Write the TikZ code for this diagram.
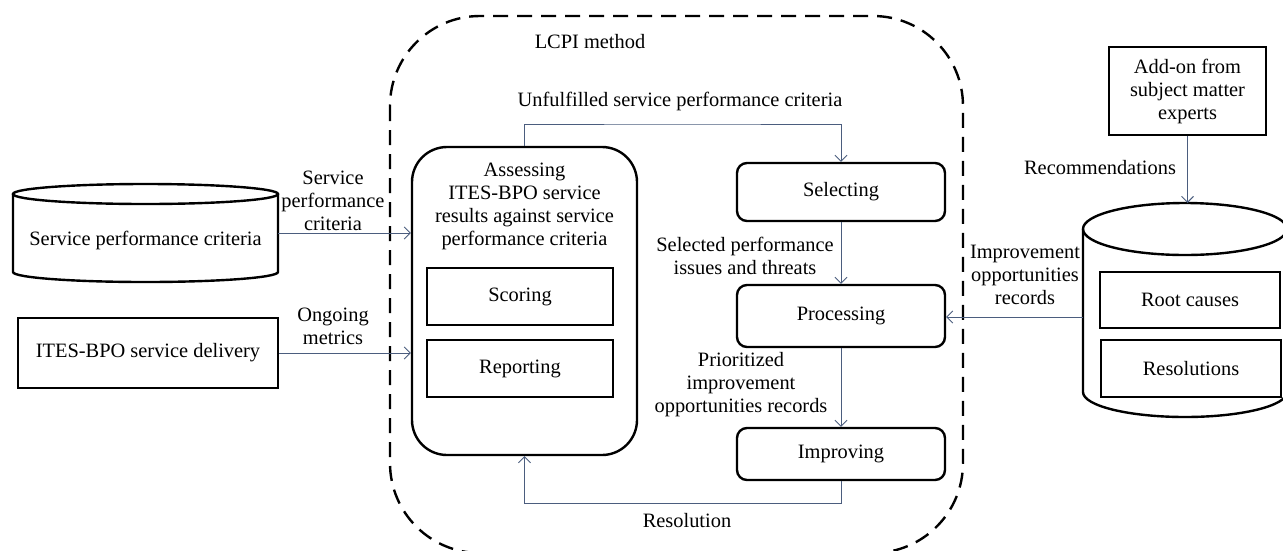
\documentclass[tikz,border=0pt]{standalone}
\usepackage{fontspec}
\setmainfont{Liberation Serif}
\usetikzlibrary{arrows.meta,calc}
\definecolor{linkc}{HTML}{4B5D7E}
\begin{document}
\begin{tikzpicture}[x=1pt,y=-1pt,
  font=\fontsize{20.4}{23}\selectfont,
  box/.style={draw, line width=2.4pt, align=center, inner sep=0pt},
  rbox/.style={box, rounded corners=10pt},
  conn/.style={draw=linkc, line width=0.9pt, -{Straight Barb[length=6pt,width=12pt]}},
  lbl/.style={align=center, inner sep=0pt}]
\useasboundingbox (0,0) rectangle (1283,550);

% LCPI dashed frame
\begin{scope}
\clip (0,0) rectangle (1283,550);
\draw[line width=2.4pt, dash pattern=on 15pt off 9pt, rounded corners=90pt] (390,16) rectangle (963,553);
\end{scope}
\node[lbl] (lcpi) at (590,42) {LCPI method};

% left cylinder
\node[lbl, minimum width=265pt, minimum height=98pt] (spc) at (145.5,233) {};
\draw[line width=2.4pt] (13,194) -- (13,272) arc[start angle=180, end angle=360, x radius=132.5pt, y radius=10pt] -- (278,194);
\draw[line width=2.4pt] (145.5,194) ellipse[x radius=132.5pt, y radius=10pt];
\node[lbl] at (145.5,240) {Service performance criteria};

% delivery box
\node[box, minimum width=260pt, minimum height=70pt] (deliv) at (148,353) {ITES-BPO service delivery};

% assessing
\node[box, rounded corners=35pt, minimum width=225pt, minimum height=308pt] (assess) at (524.5,301) {};
\node[lbl, anchor=north] (assesst) at (524.5,163) {Assessing\\ITES-BPO service\\results against service\\performance criteria};
\node[box, minimum width=186pt, minimum height=57pt] (scoring) at (520,296.5) {Scoring};
\node[box, minimum width=186pt, minimum height=57pt] (reporting) at (520,368.5) {Reporting};

% right column
\node[rbox, minimum width=208pt, minimum height=58pt] (select) at (841,192) {Selecting};
\node[rbox, minimum width=208pt, minimum height=62pt] (process) at (841,316) {Processing};
\node[rbox, minimum width=208pt, minimum height=52pt] (improve) at (841,454) {Improving};

% right cylinder
\node[lbl, minimum width=204pt, minimum height=214pt] (db) at (1185,310) {};
\draw[line width=2.4pt] (1083,229) -- (1083,392) arc[start angle=180, end angle=360, x radius=102pt, y radius=25pt] -- (1287,229);
\draw[line width=2.4pt] (1185,229) ellipse[x radius=102pt, y radius=26pt];
\node[box, minimum width=180pt, minimum height=56pt] (root) at (1190,300) {Root causes};
\node[box, minimum width=180pt, minimum height=57pt] (resol) at (1191,368.5) {Resolutions};

% add-on box
\node[box, minimum width=157pt, minimum height=88pt] (addon) at (1187.5,91) {Add-on from\\subject matter\\experts};

% connectors
\draw[conn] (spc.east) -- (assess.west |- spc.east);
\node[lbl] at (333,201) {Service\\performance\\criteria};
\draw[conn] (deliv.east) -- (assess.west |- deliv.east);
\node[lbl] at (333,326) {Ongoing\\metrics};

\draw[conn] (assess.north) |- (682,124) -| (select.north);
\node[lbl] at (680,101) {Unfulfilled service performance criteria};

\draw[conn] (select.south) -- (process.north);
\node[lbl] at (745,256) {Selected performance\\issues and threats};

\draw[conn] (process.south) -- (improve.north);
\node[lbl] at (741,385) {Prioritized\\improvement\\opportunities records};

\draw[conn] (improve.south) |- (682,503) -| (assess.south);
\node[lbl] at (687,521) {Resolution};

\draw[conn] (db.west |- 0,317) -- (process.east |- 0,317);
\node[lbl] at (1025,275) {Improvement\\opportunities\\records};

\draw[conn] (addon.south) -- (1187.5,203);
\node[lbl] at (1100,168) {Recommendations};
\end{tikzpicture}
\end{document}
